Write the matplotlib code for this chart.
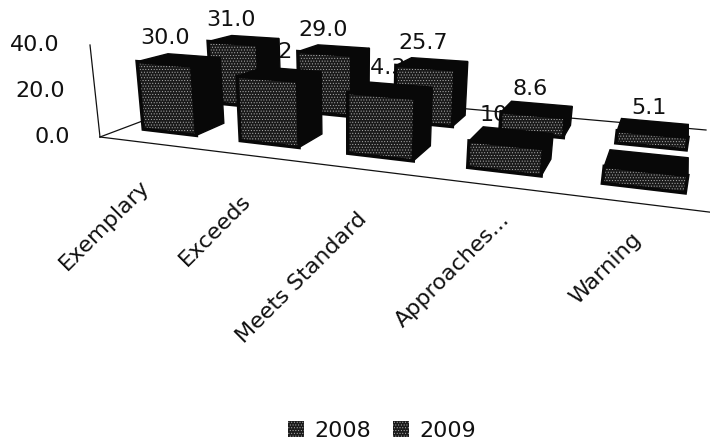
import numpy as np
import matplotlib
matplotlib.use('Agg')
import matplotlib.pyplot as plt
from matplotlib.patches import Patch, Polygon

categories = ['Exemplary', 'Exceeds', 'Meets Standard', 'Approaches...', 'Warning']
values_2008 = [30.0, 27.2, 24.3, 10.0, 6.0]
values_2009 = [31.0, 29.0, 25.7, 8.6, 5.1]
value_ticks = [0.0, 20.0, 40.0]

BAR_W = 0.56
BACK_D = 2.5
FONT = 16
HEIGHT_PX = 2.25   # pixels per unit at the front left bar
LEAN_X = 350       # verticals lean away from this column
LEAN_K = 0.00044
# hand placed shift of each category label
label_dx = [-23, -22, -16, 3, -5]
label_dy = [51, 54, 59, 45, 48]

# floor point (category, depth) -> picture pixel, used to fit the floor
calib = [
    ((0, 0), (143, 130)), ((BAR_W, 0), (197, 136)),
    ((1, 0), (240, 140)), ((1 + BAR_W, 0), (300, 148)),
    ((2, 0), (347, 152)), ((2 + BAR_W, 0), (415, 160)),
    ((3, 0), (468, 168)), ((3 + BAR_W, 0), (542, 176)),
    ((4, 0), (602, 180)), ((4 + BAR_W, 0), (685, 193)),
    ((BAR_W, 1), (222, 125)), ((1 + BAR_W, 1), (320, 135)),
    ((2 + BAR_W, 1), (430, 148)), ((3 + BAR_W, 1), (552, 160)),
    ((0, BACK_D), (210, 100)), ((BAR_W, BACK_D), (265, 107)),
    ((2 + BAR_W, BACK_D), (450, 127)), ((2 + BAR_W, BACK_D + 1), (465, 115)),
    ((3, BACK_D), (498, 128)), ((3 + BAR_W, BACK_D), (563, 138)),
    ((3 + BAR_W, BACK_D + 1), (572, 128)),
]
# chart frame corners in the picture: origin, back left, front right, back right
frame_px = [(100, 137), (230, 88), (725, 214), (706, 130)]


def fit_floor(pairs):
    """ Least squares fit of a plane homography """
    rows, rhs = [], []
    for (u, d), (px, py) in pairs:
        rows.append([u, d, 1, 0, 0, 0, -px * u, -px * d])
        rows.append([0, 0, 0, u, d, 1, -py * u, -py * d])
        rhs += [px, py]
    sol = np.linalg.lstsq(np.array(rows, float), np.array(rhs, float), rcond=None)[0]
    return np.append(sol, 1).reshape(3, 3)


FLOOR = fit_floor(calib)
W_REF = (FLOOR @ np.array([0, 0, 1.0]))[2]


def project(u, d, v):
    x, y, w = FLOOR @ np.array([u, d, 1.0])
    x, y = x / w, y / w
    rise = v * HEIGHT_PX * W_REF / w
    return x + (x - LEAN_X) * LEAN_K * rise, y - rise


def label_x(px):
    # value labels drift left of their bar, more so on the left of the chart
    return px + (px - 845) * 0.0215


def draw_bar(ax, i, d, value, zorder):
    """ Draw one box: side and top in black, front face speckled """
    u0, u1 = i, i + BAR_W
    d1 = d + 1
    side = [project(u1, d, 0), project(u1, d1, 0), project(u1, d1, value), project(u1, d, value)]
    top = [project(u0, d, value), project(u1, d, value), project(u1, d1, value), project(u0, d1, value)]
    front = [project(u0, d, 0), project(u1, d, 0), project(u1, d, value), project(u0, d, value)]
    ax.add_patch(Polygon(side, fc='#080808', ec='#080808', lw=1, zorder=zorder))
    ax.add_patch(Polygon(top, fc='#080808', ec='#080808', lw=1, zorder=zorder))
    ax.add_patch(Polygon(front, fc='#1a1a1a', ec='#b0b0b0', hatch='......', lw=0, zorder=zorder))
    ax.add_patch(Polygon(front, fc='none', ec='#080808', lw=2.5, zorder=zorder))


plt.rcParams['hatch.linewidth'] = 0.4
fig = plt.figure(figsize=(7.1, 4.48), dpi=100)
ax = fig.add_axes([0, 0, 1, 1])
ax.set_xlim(0, 710)
ax.set_ylim(448, 0)
ax.axis('off')

# frame of the chart
origin, back_left, front_right, back_right = frame_px
top_axis = (origin[0] - 10, origin[1] - 92)
for pa, pb in [(origin, top_axis), (origin, front_right), (origin, back_left), (back_left, back_right)]:
    ax.plot([pa[0], pb[0]], [pa[1], pb[1]], color='#111111', lw=0.9, zorder=1)

for t in value_ticks:
    frac = t / value_ticks[-1]
    px = origin[0] + (top_axis[0] - origin[0]) * frac
    py = origin[1] + (top_axis[1] - origin[1]) * frac
    ax.text(px - 30, py, '%.1f' % t, ha='right', va='center', fontsize=FONT, color='#111111')

for i, name in enumerate(categories):
    px, py = project(i + BAR_W / 2, 0, 0)
    ax.text(px + label_dx[i], py + label_dy[i], name, rotation=45, rotation_mode='anchor',
            ha='right', va='center', fontsize=FONT, color='#111111')

# front series labels sit under the back bars, as in the picture
for i, val in enumerate(values_2008):
    px, py = project(i + BAR_W / 2, 0.5, val)
    ax.text(label_x(px), py - 22, '%.1f' % val, ha='center', va='center', fontsize=FONT,
            color='#111111', zorder=2)
for i, val in enumerate(values_2009):
    draw_bar(ax, i, BACK_D, val, 3)
for i, val in enumerate(values_2008):
    draw_bar(ax, i, 0, val, 4)
for i, val in enumerate(values_2009):
    px, py = project(i + BAR_W / 2, BACK_D + 0.5, val)
    ax.text(label_x(px), py - 20, '%.1f' % val, ha='center', va='center', fontsize=FONT,
            color='#111111', zorder=5)

handles = [Patch(fc='#1a1a1a', ec='#b0b0b0', hatch='......', lw=0, label='2008'),
           Patch(fc='#1a1a1a', ec='#b0b0b0', hatch='......', lw=0, label='2009')]
ax.legend(handles=handles, ncol=2, frameon=False, fontsize=FONT, loc='center',
          bbox_to_anchor=(382 / 710, 1 - 431 / 448), handlelength=0.72, handleheight=0.72,
          handletextpad=0.45, columnspacing=1.0, labelcolor='#111111')

fig.savefig('out.png', dpi=100)
